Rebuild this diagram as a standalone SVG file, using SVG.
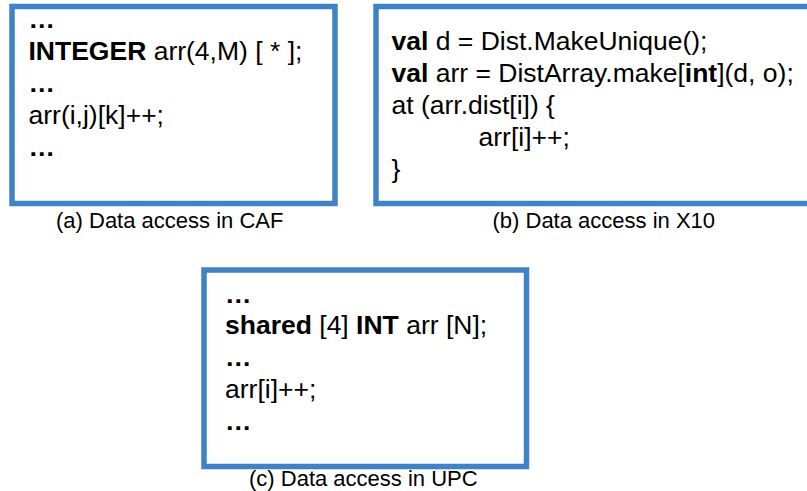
<svg xmlns="http://www.w3.org/2000/svg" width="807" height="491" viewBox="0 0 807 491">
<style>
.box{fill:#fff;stroke:#3F83C6;stroke-width:5.5}
.code{font-family:"Liberation Sans",Arial,sans-serif;font-size:26.5px;fill:#000}
.cap{font-family:"Liberation Sans",Arial,sans-serif;font-size:22px;fill:#000}
.b{font-weight:bold}
</style>
<rect width="807" height="491" fill="#fff"/>
<g id="caf">
<rect class="box" x="12" y="6.5" width="323" height="197"/>
<text class="code b" x="28.5" y="28">…</text>
<text class="code" x="28.5" y="60"><tspan class="b">INTEGER</tspan> arr(4,M) [ * ];</text>
<text class="code b" x="28.5" y="91.5">…</text>
<text class="code" x="28.5" y="123.5">arr(i,j)[k]++;</text>
<text class="code b" x="28.5" y="155.5">…</text>
<text class="cap" x="56" y="228">(a) Data access in CAF</text>
</g>
<g id="x10">
<rect class="box" x="376" y="6.5" width="440" height="197"/>
<text class="code" x="391.5" y="50"><tspan class="b">val</tspan> d = Dist.MakeUnique();</text>
<text class="code" x="391.5" y="82"><tspan class="b">val</tspan> arr = DistArray.make[<tspan class="b">int</tspan>](d, o);</text>
<text class="code" x="391.5" y="114">at (arr.dist[i]) {</text>
<text class="code" x="478.5" y="146">arr[i]++;</text>
<text class="code" x="391.5" y="178">}</text>
<text class="cap" x="492.5" y="228">(b) Data access in X10</text>
</g>
<g id="upc">
<rect class="box" x="204" y="270" width="322.5" height="196.5"/>
<text class="code b" x="225" y="302.5">…</text>
<text class="code" x="225" y="334"><tspan class="b">shared</tspan> [4] <tspan class="b">INT</tspan> arr [N];</text>
<text class="code b" x="225" y="366">…</text>
<text class="code" x="225" y="398">arr[i]++;</text>
<text class="code b" x="225" y="430">…</text>
<text class="cap" x="249" y="486">(c) Data access in UPC</text>
</g>
<g id="connectors"/>
</svg>
